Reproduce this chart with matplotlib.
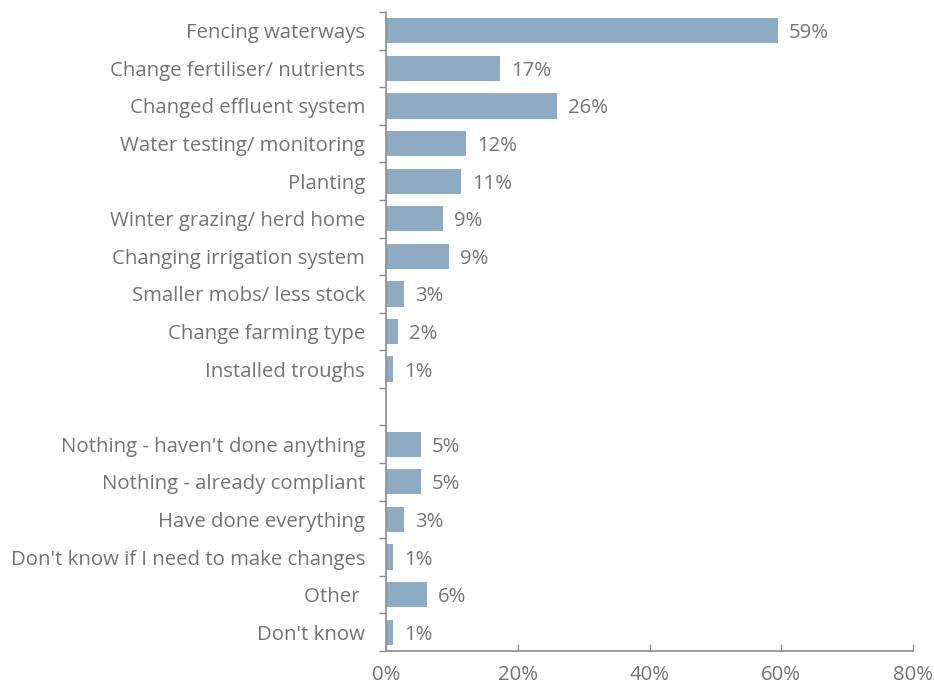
import matplotlib.pyplot as plt

# categories top to bottom, None = empty gap row
categories = [
    "Fencing waterways",
    "Change fertiliser/ nutrients",
    "Changed effluent system",
    "Water testing/ monitoring",
    "Planting",
    "Winter grazing/ herd home",
    "Changing irrigation system",
    "Smaller mobs/ less stock",
    "Change farming type",
    "Installed troughs",
    None,
    "Nothing - haven't done anything",
    "Nothing - already compliant",
    "Have done everything",
    "Don't know if I need to make changes",
    "Other ",
    "Don't know",
]
values = [59.5, 17.3, 25.9, 12.1, 11.4, 8.6, 9.6, 2.7, 1.8, 1.1,
          None, 5.3, 5.3, 2.7, 1.1, 6.2, 1.1]
value_labels = ["59%", "17%", "26%", "12%", "11%", "9%", "9%", "3%", "2%", "1%",
                None, "5%", "5%", "3%", "1%", "6%", "1%"]
x_ticks = [0, 20, 40, 60, 80]

bar_color = "#8eabc4"
text_color = "#737373"
axis_color = "#8c8c8c"
fs = 14.7

plt.rcParams['font.family'] = ['Open Sans', 'DejaVu Sans']

fig = plt.figure(figsize=(9.34, 6.88), dpi=100)
ax = fig.add_axes([386 / 934, 1 - 651 / 688, (913 - 386) / 934, (651 - 12) / 688])

n = len(categories)
for i, (v, lab) in enumerate(zip(values, value_labels)):
    if v is None:
        continue
    ax.barh(i, v, height=0.67, color=bar_color)
    ax.text(v + 1.7, i, lab, va='center_baseline', ha='left', fontsize=fs, color=text_color)

ax.set_ylim(n - 0.5, -0.5)
ax.set_xlim(0, 80)

ax.set_yticks(range(n))
ax.set_yticklabels([c if c else "" for c in categories], fontsize=fs, color=text_color)
ax.set_yticks([i - 0.5 for i in range(n + 1)], minor=True)
ax.tick_params(axis='y', which='major', length=0, pad=15)
ax.tick_params(axis='y', which='minor', length=5, width=1, color=axis_color, direction='out')

ax.set_xticks(x_ticks)
ax.set_xticklabels([f"{t}%" for t in x_ticks], fontsize=fs, color=text_color)
ax.tick_params(axis='x', length=5, width=1, color=axis_color, direction='in', pad=10)

for s in ['top', 'right']:
    ax.spines[s].set_visible(False)
for s in ['left', 'bottom']:
    ax.spines[s].set_color(axis_color)
    ax.spines[s].set_linewidth(1.2)

plt.savefig("out.png", dpi=100)
